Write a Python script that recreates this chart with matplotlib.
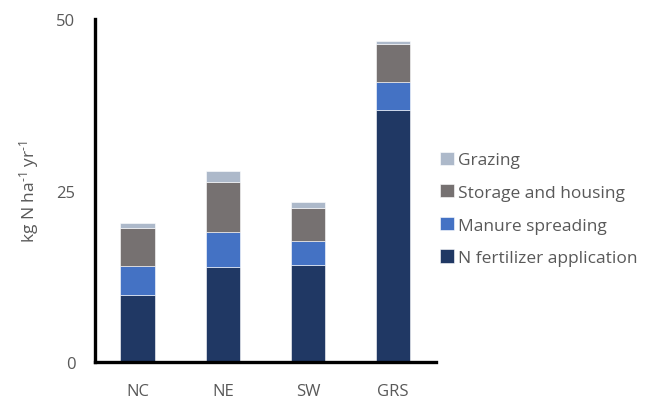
import numpy as np
from matplotlib import pyplot as plt

plt.rcParams['font.family'] = ['Open Sans', 'DejaVu Sans']
plt.rcParams['mathtext.fontset'] = 'custom'
plt.rcParams['mathtext.rm'] = 'Open Sans'
plt.rcParams['mathtext.default'] = 'rm'

regions = ['NC', 'NE', 'SW', 'GRS']
fertilizer = [9.8, 13.8, 14.2, 36.7]
manure = [4.2, 5.15, 3.5, 4.1]
storage = [5.6, 7.25, 4.8, 5.5]
grazing = [0.6, 1.6, 0.8, 0.5]

series = [
    ('N fertilizer application', fertilizer, '#203864'),
    ('Manure spreading', manure, '#4472C4'),
    ('Storage and housing', storage, '#767171'),
    ('Grazing', grazing, '#ADB9CA'),
]

text_col = '#595959'

fig = plt.figure(figsize=(6.48, 4.02), dpi=100)
ax = fig.add_axes([0.1466, 0.097, 0.5258, 0.853])

x = np.arange(len(regions))
bottom = np.zeros(len(regions))
for name, vals, col in series:
    ax.bar(x, vals, width=0.405, bottom=bottom, color=col, label=name,
           edgecolor='white', linewidth=0.4)
    bottom += np.array(vals)

ax.set_xlim(-0.5, 3.5)
ax.set_ylim(0, 50)
ax.set_yticks([0, 25, 50])
ax.set_xticks(x)
ax.set_xticklabels(regions)
ax.tick_params(length=0, labelsize=12, colors=text_col)
ax.tick_params(axis='y', pad=14)
ax.tick_params(axis='x', pad=15)

for s in ['top', 'right']:
    ax.spines[s].set_visible(False)
for s in ['left', 'bottom']:
    ax.spines[s].set_linewidth(2.4)
    ax.spines[s].set_color('black')

ax.set_ylabel(r'kg N ha$^{\text{-1}}$ yr$^{\text{-1}}$', fontsize=12.5, color=text_col, labelpad=11)

h, l = ax.get_legend_handles_labels()
leg = fig.legend(h[::-1], l[::-1], loc='center left', bbox_to_anchor=(0.655, 0.478),
                 frameon=False, fontsize=12.5, handlelength=0.8, handleheight=0.8,
                 handletextpad=0.25, labelspacing=0.92)
for t in leg.get_texts():
    t.set_color(text_col)

fig.savefig('out.png', dpi=100)
